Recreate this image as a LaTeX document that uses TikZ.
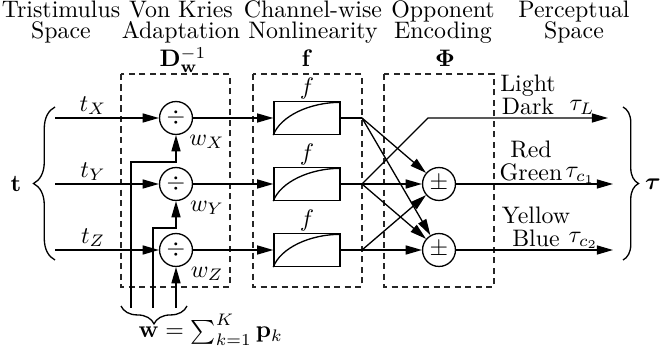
\documentclass[tikz,border=0pt]{standalone}
\usepackage{amsmath,amssymb}
\usepackage{xcolor}
\usepackage{tikz}
\usetikzlibrary{positioning,arrows.meta,decorations.pathreplacing}
\tikzset{
  arr/.style={-{Triangle[length=6.8pt,width=3.8pt]}},
  opnode/.style={circle,draw,minimum size=13.8pt,inner sep=0pt},
  nlbox/.style={draw,minimum width=27.7pt,minimum height=13.8pt,inner sep=0pt},
  stagebox/.style={draw=black!85,line width=0.45pt,dash pattern=on 2.6pt off 1.8pt},
  hdr/.style={align=center,inner sep=0pt},
  brc/.style={decorate,decoration={brace,amplitude=#1}},
  brc/.default=6pt}
\newcommand{\satcurve}[1]{%
  \draw (#1.south west) .. controls +(3pt,8pt) and +(-13pt,0pt) .. ([yshift=-0.6pt]#1.north east);}
\newcommand{\adaptrow}[2]{%
  \coordinate (in#1) at (55,#2);
  \node[opnode] (div#1) at (176,#2) {$\div$};
  \node[nlbox] (f#1) at (307,#2) {};
  \coordinate (br#1) at (362,#2);
  \node[anchor=south,inner sep=1pt] (t#1) at (93,#2) {$t_{#1}$};
  \node (w#1) at (207,#2+24) {$w_{#1}$};
  \node[anchor=south,inner sep=0.3pt] (lf#1) at (f#1.north) {$f$};
  \satcurve{f#1}
  \draw[arr] (in#1) -- (div#1);
  \draw[arr] (div#1) -- (f#1);
  \draw (f#1) -- (br#1);}

\begin{document}
\begin{tikzpicture}[x=0.419pt,y=-0.419pt,line width=0.55pt]
\useasboundingbox (0,0) rectangle (663,358);
% ---- stage headings ----
\node[hdr] (hTri) at (61,22) {Tristimulus\\[-3.2pt]Space};
\node[hdr] (hVK) at (181,22) {Von Kries\\[-3.2pt]Adaptation};
\node[hdr] (hCw) at (313,22) {Channel-wise\\[-3.2pt]Nonlinearity};
\node[hdr] (hOpp) at (443,22) {Opponent\\[-3.2pt]Encoding};
\node[hdr] (hPer) at (574,22) {Perceptual\\[-3.2pt]Space};
\node[anchor=base] (lD) at (183,67) {$\mathbf{D}_{\mathbf{w}}^{-1}$};
\node[anchor=base] (lF) at (307,67) {$\mathbf{f}$};
\node[anchor=base] (lPhi) at (445,67) {$\mathbf{\Phi}$};
% ---- dashed stage frames ----
\draw[stagebox] (121,74) rectangle (230,287);
\draw[stagebox] (253,74) rectangle (362,287);
\draw[stagebox] (384,74) rectangle (494,287);
% ---- adaptation + nonlinearity rows ----
\adaptrow{X}{118}
\adaptrow{Y}{184}
\adaptrow{Z}{250}
% ---- white point feeds ----
\coordinate (wa) at (131,308);
\coordinate (wak) at (131,162);
\coordinate (wb) at (153,308);
\coordinate (wbk) at (153,228);
\coordinate (wc) at (176,308);
\draw[arr] (wa) -- (wak) -| (divX);
\draw[arr] (wb) -- (wbk) -| (divY);
\draw[arr] (wc) -- (divZ);
\draw[decorate,decoration={brace,mirror,amplitude=7.5pt}] (121,306) -- (187,306);
\node[anchor=base west,inner sep=0pt] (wsum) at (138,338) {$\mathbf{w}=\sum_{k=1}^{K}\mathbf{p}_k$};
% ---- opponent stage ----
\node[opnode] (pmA) at (439,184) {$\pm$};
\node[opnode] (pmB) at (439,250) {$\pm$};
\coordinate (knee) at (428,118);
\coordinate (outL) at (608,118);
\coordinate (outA) at (613,184);
\coordinate (outB) at (613,250);
\draw[arr] (brY) -- (knee) -- (outL);
\draw[arr] (brX) -- (pmA);
\draw[arr] (brX) -- (pmB);
\draw[arr] (brY) -- (pmA);
\draw[arr] (brY) -- (pmB);
\draw[arr] (brZ) -- (pmA);
\draw[arr] (brZ) -- (pmB);
\draw[arr] (pmA) -- (outA);
\draw[arr] (pmB) -- (outB);
% ---- channel names ----
\node[hdr] (nL) at (528,95) {Light\\[-2.4pt]Dark};
\node[hdr] (nA) at (531,161) {Red\\[-2.4pt]Green};
\node[hdr] (nB) at (536,227) {Yellow\\[-2.4pt]Blue};
\node[anchor=base west,inner sep=0pt] (tauL) at (569,111) {$\tau_L$};
\node[anchor=base west,inner sep=0pt] (tauA) at (565,178) {$\tau_{c_1}$};
\node[anchor=base west,inner sep=0pt] (tauB) at (568,243) {$\tau_{c_2}$};
% ---- input / output braces ----
\draw[brc=9pt] (55,260) -- (55,107);
\draw[brc=6.5pt] (623,107) -- (623,260);
\node (tIn) at (16,184) {$\mathbf{t}$};
\node (tauOut) at (653,184) {$\boldsymbol{\tau}$};
\end{tikzpicture}
\end{document}
